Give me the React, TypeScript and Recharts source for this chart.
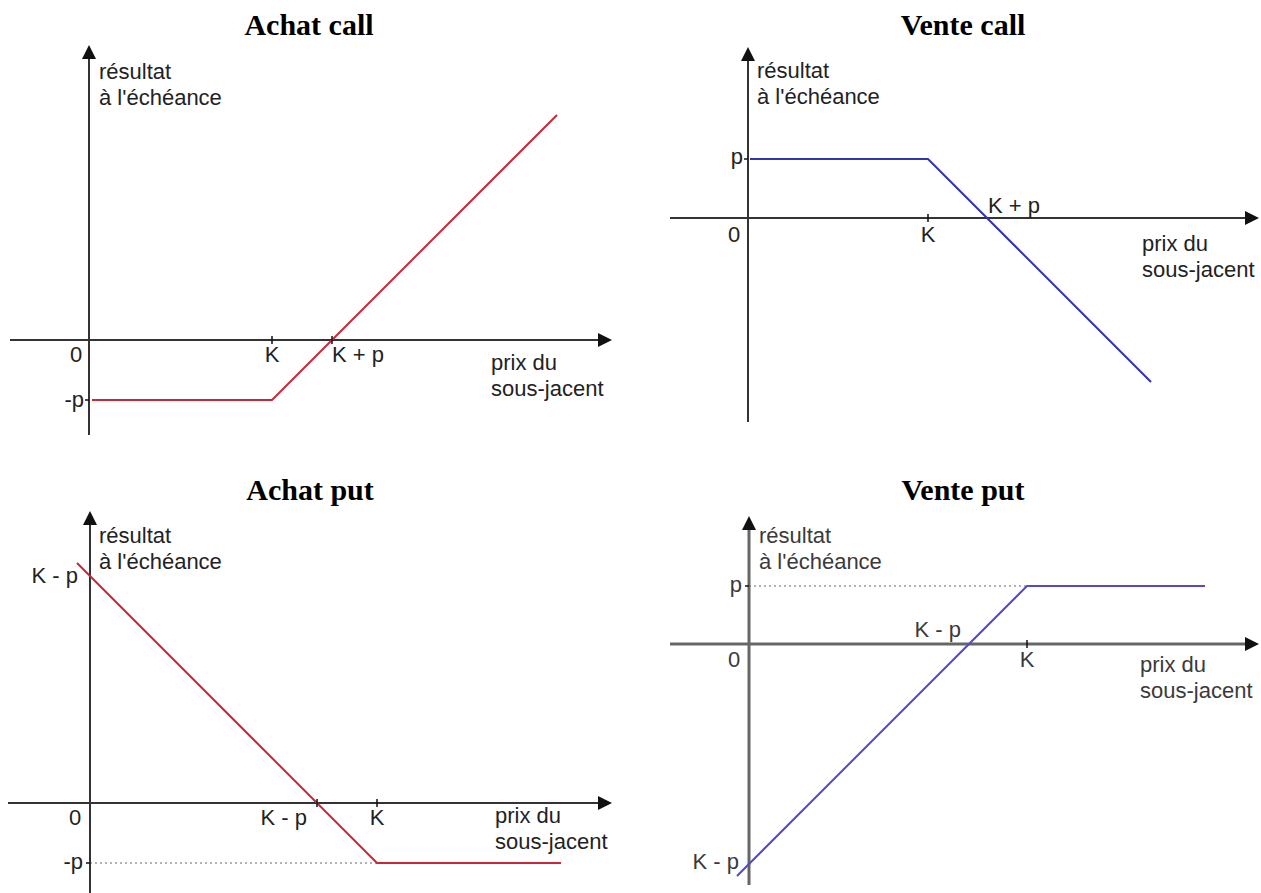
import React from 'react';
import { LineChart, Line, XAxis, YAxis, ReferenceLine, ReferenceDot } from 'recharts';

// Valeurs (1 unité ~ 1 px)
const titles = ['Achat call', 'Vente call', 'Achat put', 'Vente put'];
const xAxisTitle = ['prix du', 'sous-jacent'];
const yAxisTitle = ['résultat', "à l'échéance"];

// Achat call
const buyCallK = 183;
const buyCallP = 60;
const buyCallPrices = [3, 183, 468];
const buyCallResults = [-60, -60, 225];

// Vente call
const sellCallK = 180;
const sellCallP = 59;
const sellCallPrices = [2, 180, 403];
const sellCallResults = [59, 59, -164];

// Achat put
const buyPutK = 287;
const buyPutP = 60;
const buyPutPrices = [-13, 287, 471];
const buyPutResults = [240, -60, -60];

// Vente put
const sellPutK = 278;
const sellPutP = 58;
const sellPutPrices = [-12, 278, 456];
const sellPutResults = [-232, 58, 58];

const FONT = '"Liberation Sans", Arial, sans-serif';

interface LabelDef {
  x: number;
  y: number;
  text: string;
  anchor: 'start' | 'middle' | 'end';
  dx: number;
  dy: number;
}

interface PanelProps {
  left: number;
  top: number;
  width: number;
  height: number;
  ox: number;
  oy: number;
  prices: number[];
  results: number[];
  color: string;
  axisColor: string;
  axisWidth: number;
  textColor: string;
  xFrom: number;
  xTo: number;
  yFrom: number;
  yTo: number;
  labels: LabelDef[];
  xTicks: number[];
  yTicks: number[];
  dotted?: { y: number; x: number };
}

const Panel: React.FC<PanelProps> = (props) => {
  const {
    left, top, width, height, ox, oy, prices, results, color, axisColor, axisWidth,
    textColor, xFrom, xTo, yFrom, yTo, labels, xTicks, yTicks, dotted,
  } = props;
  const data = prices.map((price, i) => ({ price, result: results[i] }));

  return (
    <div style={{ position: 'absolute', left, top }}>
      <LineChart width={width} height={height} data={data} margin={{ top: 0, right: 0, bottom: 0, left: 0 }}>
        <XAxis dataKey="price" type="number" domain={[-ox, width - ox]} allowDataOverflow hide />
        <YAxis type="number" domain={[oy - height, oy]} allowDataOverflow hide />

        {dotted && (
          <ReferenceLine
            segment={[{ x: 0, y: dotted.y }, { x: dotted.x, y: dotted.y }]}
            stroke="#999"
            strokeWidth={1.5}
            strokeDasharray="2 3"
          />
        )}

        <ReferenceLine segment={[{ x: xFrom, y: 0 }, { x: xTo - 6, y: 0 }]} stroke={axisColor} strokeWidth={axisWidth} />
        <ReferenceLine segment={[{ x: 0, y: yFrom }, { x: 0, y: yTo - 6 }]} stroke={axisColor} strokeWidth={axisWidth} />

        <ReferenceDot
          x={xTo}
          y={0}
          r={1}
          shape={(p: any) => (
            <polygon points={`${p.cx},${p.cy} ${p.cx - 14},${p.cy - 7} ${p.cx - 14},${p.cy + 7}`} fill="#111" />
          )}
        />
        <ReferenceDot
          x={0}
          y={yTo}
          r={1}
          shape={(p: any) => (
            <polygon points={`${p.cx},${p.cy} ${p.cx - 7},${p.cy + 14} ${p.cx + 7},${p.cy + 14}`} fill="#111" />
          )}
        />

        {xTicks.map((t) => (
          <ReferenceDot
            key={`xt-${t}`}
            x={t}
            y={0}
            r={1}
            shape={(p: any) => <line x1={p.cx} y1={p.cy - 4} x2={p.cx} y2={p.cy + 4} stroke="#111" strokeWidth={1.5} />}
          />
        ))}
        {yTicks.map((t) => (
          <ReferenceDot
            key={`yt-${t}`}
            x={0}
            y={t}
            r={1}
            shape={(p: any) => <line x1={p.cx - 4} y1={p.cy} x2={p.cx} y2={p.cy} stroke="#111" strokeWidth={1.5} />}
          />
        ))}

        <Line
          type="linear"
          dataKey="result"
          stroke={color}
          strokeWidth={2}
          dot={false}
          activeDot={false}
          isAnimationActive={false}
        />

        {labels.map((l, i) => (
          <ReferenceDot
            key={`lb-${i}`}
            x={l.x}
            y={l.y}
            r={1}
            shape={(p: any) => (
              <text
                x={p.cx + l.dx}
                y={p.cy + l.dy}
                textAnchor={l.anchor}
                fontFamily={FONT}
                fontSize={22}
                fill={textColor}
              >
                {l.text}
              </text>
            )}
          />
        ))}
      </LineChart>
    </div>
  );
};

const axisTitles = (px: number, py: number, rx: number, ry: number): LabelDef[] => [
  { x: 0, y: 0, text: xAxisTitle[0], anchor: 'start', dx: px, dy: py },
  { x: 0, y: 0, text: xAxisTitle[1], anchor: 'start', dx: px, dy: py + 26 },
  { x: 0, y: 0, text: yAxisTitle[0], anchor: 'start', dx: rx, dy: ry },
  { x: 0, y: 0, text: yAxisTitle[1], anchor: 'start', dx: rx, dy: ry + 26 },
];

const Title: React.FC<{ text: string; cx: number; top: number }> = ({ text, cx, top }) => (
  <div
    style={{
      position: 'absolute',
      left: cx - 150,
      top,
      width: 300,
      textAlign: 'center',
      fontFamily: '"Liberation Serif", "Times New Roman", serif',
      fontWeight: 'bold',
      fontSize: 30,
      lineHeight: '30px',
      color: '#000',
    }}
  >
    {text}
  </div>
);

export default function App() {
  return (
    <div style={{ position: 'absolute', left: 0, top: 0, width: 1261, height: 893, background: '#fff', overflow: 'hidden' }}>
      <Title text={titles[0]} cx={309} top={10} />
      <Title text={titles[1]} cx={963} top={10} />
      <Title text={titles[2]} cx={310} top={475} />
      <Title text={titles[3]} cx={963} top={475} />

      <Panel
        left={0} top={40} width={630} height={400} ox={89} oy={300}
        prices={buyCallPrices} results={buyCallResults}
        color="#c8283a" axisColor="#333" axisWidth={2} textColor="#222"
        xFrom={-79} xTo={523} yFrom={-95} yTo={295}
        xTicks={[buyCallK, buyCallK + buyCallP]} yTicks={[-buyCallP]}
        labels={[
          { x: 0, y: 0, text: '0', anchor: 'middle', dx: -13, dy: 22 },
          { x: buyCallK, y: 0, text: 'K', anchor: 'middle', dx: 0, dy: 22 },
          { x: buyCallK + buyCallP, y: 0, text: 'K + p', anchor: 'start', dx: 0, dy: 22 },
          { x: 0, y: -buyCallP, text: '-p', anchor: 'end', dx: -5, dy: 7 },
          ...axisTitles(402, 30, 10, -261),
        ]}
      />

      <Panel
        left={630} top={40} width={631} height={400} ox={118} oy={178}
        prices={sellCallPrices} results={sellCallResults}
        color="#3232b4" axisColor="#333" axisWidth={2} textColor="#222"
        xFrom={-78} xTo={511} yFrom={-204} yTo={171}
        xTicks={[sellCallK]} yTicks={[sellCallP]}
        labels={[
          { x: 0, y: 0, text: '0', anchor: 'middle', dx: -14, dy: 24 },
          { x: sellCallK, y: 0, text: 'K', anchor: 'middle', dx: 0, dy: 24 },
          { x: sellCallK + sellCallP, y: 0, text: 'K + p', anchor: 'start', dx: 1, dy: -5 },
          { x: 0, y: sellCallP, text: 'p', anchor: 'end', dx: -5, dy: 5 },
          ...axisTitles(394, 33, 9, -140),
        ]}
      />

      <Panel
        left={0} top={500} width={630} height={393} ox={90} oy={303}
        prices={buyPutPrices} results={buyPutResults}
        color="#c8283a" axisColor="#333" axisWidth={2} textColor="#222"
        xFrom={-82} xTo={522} yFrom={-90} yTo={292}
        xTicks={[buyPutK, buyPutK - buyPutP]} yTicks={[-buyPutP]}
        dotted={{ y: -buyPutP, x: buyPutK }}
        labels={[
          { x: 0, y: buyPutK - buyPutP, text: 'K - p', anchor: 'end', dx: -12, dy: 7 },
          { x: 0, y: 0, text: '0', anchor: 'middle', dx: -15, dy: 22 },
          { x: buyPutK - buyPutP, y: 0, text: 'K - p', anchor: 'end', dx: -10, dy: 22 },
          { x: buyPutK, y: 0, text: 'K', anchor: 'middle', dx: 0, dy: 22 },
          { x: 0, y: -buyPutP, text: '-p', anchor: 'end', dx: -7, dy: 6 },
          ...axisTitles(405, 20, 9, -260),
        ]}
      />

      <Panel
        left={630} top={500} width={631} height={393} ox={119} oy={144}
        prices={sellPutPrices} results={sellPutResults}
        color="#5548d0" axisColor="#666" axisWidth={3} textColor="#3a3a3a"
        xFrom={-79} xTo={510} yFrom={-241} yTo={128}
        xTicks={[sellPutK]} yTicks={[sellPutP]}
        dotted={{ y: sellPutP, x: sellPutK }}
        labels={[
          { x: 0, y: sellPutP, text: 'p', anchor: 'end', dx: -7, dy: 6 },
          { x: 0, y: 0, text: '0', anchor: 'middle', dx: -15, dy: 23 },
          { x: sellPutK - sellPutP, y: 0, text: 'K - p', anchor: 'end', dx: -8, dy: -7 },
          { x: sellPutK, y: 0, text: 'K', anchor: 'middle', dx: 0, dy: 23 },
          { x: 0, y: -(sellPutK - sellPutP), text: 'K - p', anchor: 'end', dx: -10, dy: 5 },
          ...axisTitles(391, 28, 10, -101),
        ]}
      />
    </div>
  );
}
